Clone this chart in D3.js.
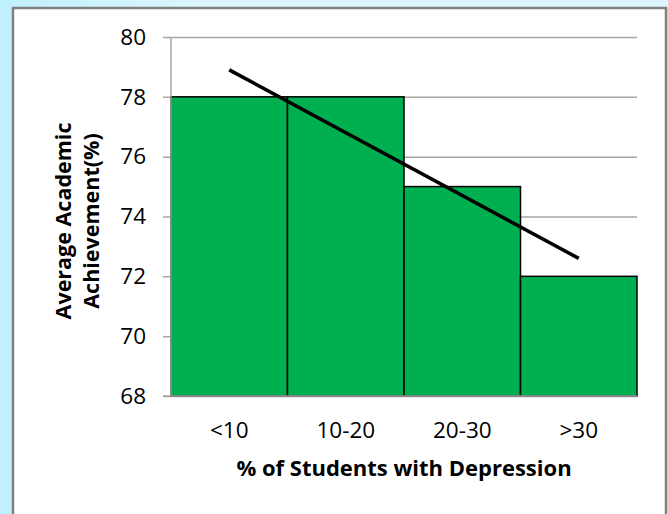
<!DOCTYPE html>
<html><head><meta charset="utf-8">
<script src="https://cdn.jsdelivr.net/npm/d3@7"></script>
<style>
html,body{margin:0;padding:0;}
body{width:668px;height:514px;overflow:hidden;background:linear-gradient(to right,#c0f0fd,#dcf6fd 30%);}
</style></head>
<body>
<svg id="chart" width="668" height="514"></svg>
<script>
const categories = ["<10", "10-20", "20-30", ">30"];
const values = [78, 78, 75, 72];
const yTicks = [68, 70, 72, 74, 76, 78, 80];
const trendValues = [78.9, 72.6]; // trendline value at first and last category
const xTitle = "% of Students with Depression";
const yTitleLines = ["Average Academic", "Achievement(%)"];

const svg = d3.select("#chart");
const font = "'Open Sans', sans-serif";

// panel
svg.append("rect").attr("x", 13).attr("y", 8).attr("width", 653).attr("height", 520)
  .attr("fill", "#fff").attr("stroke", "#808080").attr("stroke-width", 2.5);

const L = 171, R = 637, T = 37, B = 396;
const x = d3.scaleBand().domain(categories).range([L, R]).paddingInner(0).paddingOuter(0);
const y = d3.scaleLinear().domain([68, 80]).range([B, T]);

// gridlines + y tick labels
const yAxis = d3.axisLeft(y).tickValues(yTicks).tickSize(-(R - L)).tickSizeOuter(0).tickFormat(d3.format("d")).tickPadding(25);
const gy = svg.append("g").attr("transform", `translate(${L},0)`).call(yAxis);
gy.select(".domain").remove();
gy.selectAll(".tick line").attr("stroke", "#a6a6a6").attr("stroke-width", 1.5).attr("x1", -8);
gy.selectAll(".tick text").attr("font-family", font).attr("font-size", 22.5).attr("fill", "#000");

// bars
svg.append("g").selectAll("rect").data(values).join("rect")
  .attr("x", (d, i) => x(categories[i]))
  .attr("y", d => y(d))
  .attr("width", x.bandwidth())
  .attr("height", d => y(68) - y(d))
  .attr("fill", "#00b050")
  .attr("stroke", "#000").attr("stroke-width", 1.5);

// axis lines
svg.append("line").attr("x1", L).attr("x2", L).attr("y1", T).attr("y2", B)
  .attr("stroke", "#a6a6a6").attr("stroke-width", 1.5);
svg.append("line").attr("x1", L - 8).attr("x2", R).attr("y1", B).attr("y2", B)
  .attr("stroke", "#a6a6a6").attr("stroke-width", 1.5);

// x tick labels
const xAxis = d3.axisBottom(x).tickSize(0).tickPadding(26);
const gx = svg.append("g").attr("transform", `translate(0,${B})`).call(xAxis);
gx.select(".domain").remove();
gx.selectAll(".tick text").attr("font-family", font).attr("font-size", 22.5).attr("fill", "#000");

// trendline
const cx = c => x(c) + x.bandwidth() / 2;
svg.append("line")
  .attr("x1", cx(categories[0])).attr("y1", y(trendValues[0]))
  .attr("x2", cx(categories[categories.length - 1])).attr("y2", y(trendValues[1]))
  .attr("stroke", "#000").attr("stroke-width", 3.5);

// axis titles
svg.append("text").attr("x", 404).attr("y", 476).attr("text-anchor", "middle")
  .attr("font-family", font).attr("font-weight", "bold").attr("font-size", 22).text(xTitle);

const yt = svg.append("text").attr("transform", `translate(71,221) rotate(-90)`)
  .attr("text-anchor", "middle").attr("font-family", font).attr("font-weight", "bold").attr("font-size", 21.5);
yTitleLines.forEach((t, i) => yt.append("tspan").attr("x", 0).attr("dy", i === 0 ? 0 : 28).text(t));
</script>
</body></html>
